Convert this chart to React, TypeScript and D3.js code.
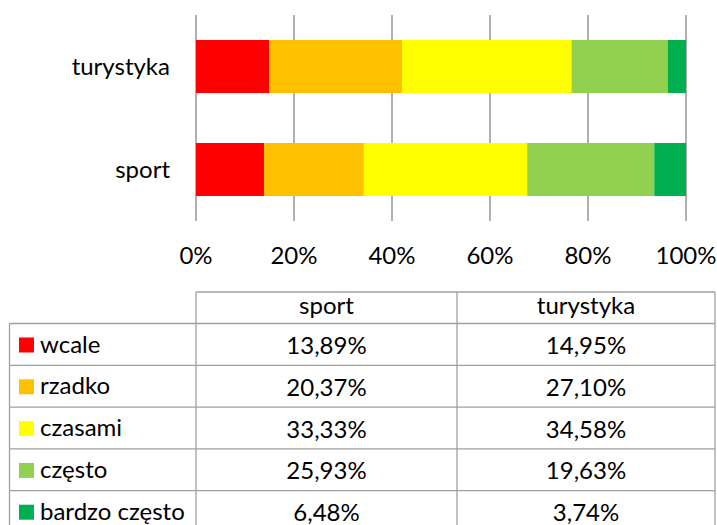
import React from 'react';
import * as d3 from 'd3';

const CATEGORIES = ['turystyka', 'sport'];
const SERIES = ['wcale', 'rzadko', 'czasami', 'często', 'bardzo często'];
const COLORS = ['#FF0000', '#FFC000', '#FFFF00', '#92D050', '#00B050'];
const SPORT = [13.89, 20.37, 33.33, 25.93, 6.48];
const TURYSTYKA = [14.95, 27.1, 34.58, 19.63, 3.74];
const TICKS = [0, 20, 40, 60, 80, 100];

const W = 717;
const H = 525;
const FONT = 'Lato, "Open Sans", sans-serif';
const FS = 24;

export default function App() {
  const x = d3.scaleLinear().domain([0, 100]).range([196, 686]);
  const y = d3.scaleBand().domain(CATEGORIES).range([15, 221]).paddingInner(0.485).paddingOuter(0.2425);

  const rows = CATEGORIES.map(c => {
    const vals = c === 'sport' ? SPORT : TURYSTYKA;
    const r: any = { cat: c };
    SERIES.forEach((s, i) => (r[s] = vals[i]));
    return r;
  });
  const stacked = d3.stack().keys(SERIES)(rows);

  // table geometry
  const colX = [9.5, 196, 457, 715];
  const headTop = 292;
  const headBot = 323.5;
  const rowH = 41.8;
  const rowY = SERIES.map((_, i) => headBot + i * rowH);
  const fmt = (v: number) => v.toFixed(2).replace('.', ',') + '%';
  const lineColor = '#A0A0A0';

  return (
    <svg width={W} height={H} style={{ position: 'absolute', left: 0, top: 0, background: '#fff' }} fontFamily={FONT}>
      {/* gridlines */}
      {TICKS.map(t => (
        <line key={t} x1={x(t)} x2={x(t)} y1={15} y2={221} stroke="#868686" strokeWidth={1.3} />
      ))}
      {/* bars */}
      {stacked.map((layer, si) =>
        layer.map((d: any) => (
          <rect
            key={SERIES[si] + d.data.cat}
            x={x(d[0])}
            width={x(d[1]) - x(d[0])}
            y={y(d.data.cat)}
            height={y.bandwidth()}
            fill={COLORS[si]}
          />
        ))
      )}
      {/* category labels */}
      {CATEGORIES.map(c => (
        <text key={c} x={170} y={(y(c) as number) + y.bandwidth() / 2 + 8} textAnchor="end" fontSize={FS} fill="#000">
          {c}
        </text>
      ))}
      {/* tick labels */}
      {TICKS.map(t => (
        <text key={t} x={x(t)} y={263.5} textAnchor="middle" fontSize={FS} fill="#000">
          {t}%
        </text>
      ))}

      {/* table */}
      <g stroke={lineColor} strokeWidth={1.3} fill="none">
        <line x1={colX[1]} x2={colX[3]} y1={headTop} y2={headTop} />
        {rowY.map((ry, i) => (
          <line key={i} x1={colX[0]} x2={colX[3]} y1={ry} y2={ry} />
        ))}
        <line x1={colX[0]} x2={colX[3]} y1={headBot + SERIES.length * rowH} y2={headBot + SERIES.length * rowH} />
        <line x1={colX[0]} x2={colX[0]} y1={headBot} y2={H + 20} />
        {colX.slice(1).map((cx, i) => (
          <line key={i} x1={cx} x2={cx} y1={headTop} y2={H + 20} />
        ))}
      </g>
      {['sport', 'turystyka'].map((c, ci) => (
        <text key={c} x={(colX[ci + 1] + colX[ci + 2]) / 2} y={headTop + 22} textAnchor="middle" fontSize={FS} fill="#000">
          {c}
        </text>
      ))}
      {SERIES.map((s, i) => (
        <g key={s}>
          <rect x={19} y={rowY[i] + 14} width={15} height={15} fill={COLORS[i]} />
          <text x={40} y={rowY[i] + 29} fontSize={FS} fill="#000">
            {s}
          </text>
          <text x={(colX[1] + colX[2]) / 2} y={rowY[i] + 30.5} textAnchor="middle" fontSize={FS} fill="#000">
            {fmt(SPORT[i])}
          </text>
          <text x={(colX[2] + colX[3]) / 2} y={rowY[i] + 30.5} textAnchor="middle" fontSize={FS} fill="#000">
            {fmt(TURYSTYKA[i])}
          </text>
        </g>
      ))}
    </svg>
  );
}
